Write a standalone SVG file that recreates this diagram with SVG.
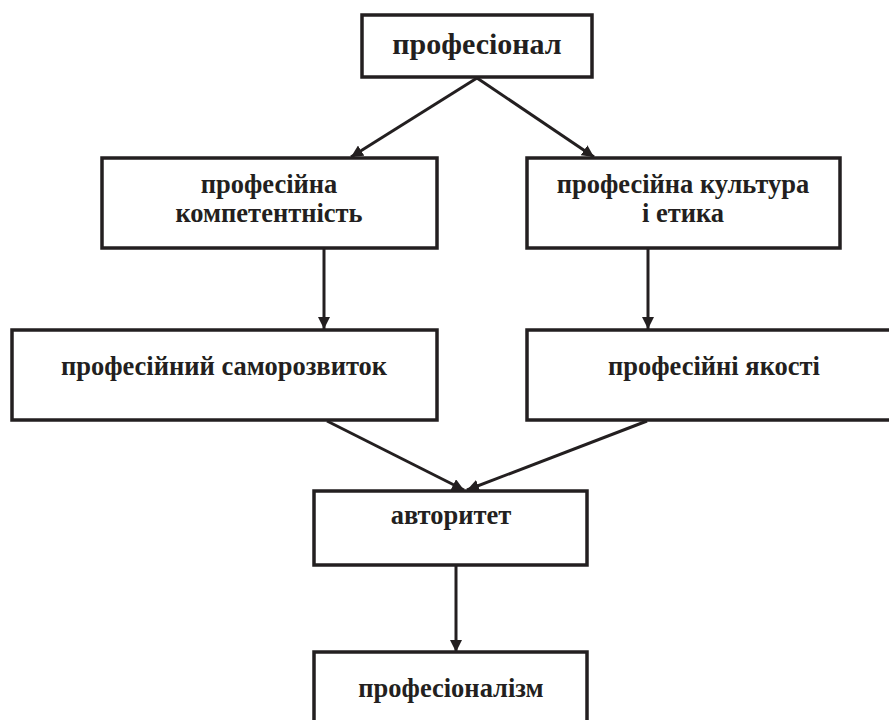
<svg xmlns="http://www.w3.org/2000/svg" width="889" height="720" viewBox="0 0 889 720">
<style>
.box{fill:#fff;stroke:#231f20;stroke-width:3.5}
.lbl{font-family:"Liberation Serif","Times New Roman",serif;font-weight:bold;font-size:26.5px;fill:#231f20;text-anchor:middle}
.big{font-size:30px}
.edge{stroke:#231f20;stroke-width:3;fill:none;marker-end:url(#ah)}
</style>
<defs>
<marker id="ah" markerUnits="userSpaceOnUse" markerWidth="14" markerHeight="12" refX="12" refY="6" orient="auto">
<path d="M0,0 L12,6 L0,12 z" fill="#231f20"/>
</marker>
</defs>
<rect width="889" height="720" fill="#fff"/>
<g id="connectors">
<line class="edge" x1="477" y1="78" x2="351" y2="157"/>
<line class="edge" x1="477" y1="78" x2="594" y2="157"/>
<line class="edge" x1="324" y1="248" x2="324" y2="329"/>
<line class="edge" x1="648" y1="248" x2="648" y2="329"/>
<line class="edge" x1="327" y1="421" x2="464" y2="490"/>
<line class="edge" x1="647" y1="421" x2="467" y2="490"/>
<line class="edge" x1="456" y1="565" x2="456" y2="652"/>
</g>
<g id="n1"><rect class="box" x="362" y="15" width="230" height="62"/><text class="lbl big" x="477" y="54">професіонал</text></g>
<g id="n2"><rect class="box" x="102" y="158" width="335" height="90"/><text class="lbl" x="269" y="193">професійна</text><text class="lbl" x="269" y="222">компетентність</text></g>
<g id="n3"><rect class="box" x="527" y="158" width="313" height="90"/><text class="lbl" x="683" y="193">професійна культура</text><text class="lbl" x="683" y="222">і етика</text></g>
<g id="n4"><rect class="box" x="12" y="330" width="425" height="90"/><text class="lbl" x="224" y="375">професійний саморозвиток</text></g>
<g id="n5"><rect class="box" x="527" y="330" width="380" height="90"/><text class="lbl" x="714" y="375">професійні якості</text></g>
<g id="n6"><rect class="box" x="314" y="491" width="273" height="74"/><text class="lbl" x="451" y="524">авторитет</text></g>
<g id="n7"><rect class="box" x="314" y="652" width="273" height="90"/><text class="lbl" x="451" y="697">професіоналізм</text></g>
</svg>
